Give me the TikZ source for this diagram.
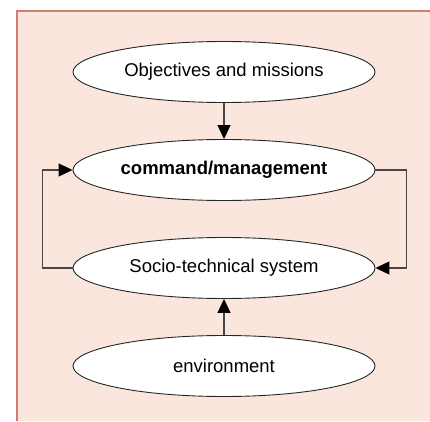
\documentclass[tikz,border=0pt]{standalone}
\usepackage{fontspec}
\setmainfont{Liberation Sans}
\usetikzlibrary{arrows.meta,shapes.geometric}
\definecolor{panelpink}{RGB}{250,230,221}
\definecolor{paneledge}{RGB}{205,128,108}
\definecolor{linkgray}{RGB}{75,68,68}
\begin{document}
\begin{tikzpicture}[x=1pt,y=1pt,
     blob/.style={draw=black!85,ellipse,fill=white,line width=0.9pt,minimum width=302pt,minimum height=61pt,inner sep=0pt,font=\fontsize{18.5}{22}\selectfont},
     link/.style={draw=linkgray,line width=1.1pt,-{Triangle[length=14pt,width=13pt,color=black]}},
     node distance=98pt
     ]
%Page and the pink panel
\useasboundingbox (0,0) rectangle (430,421);
\fill[white] (0,0) rectangle (430,421);
\fill[panelpink] (16,0) rectangle (430,410);
\draw[paneledge,line width=2pt] (17,0) -- (17,409.5) -- (430,409.5);

%The four ellipses
\node(obj)[blob] at (224,349){Objectives and missions};
\node(cmd)[blob,below of=obj]{\bfseries command/management};
\node(soc)[blob,below of=cmd]{Socio-technical system};
\node(env)[blob,below of=soc]{environment};

%Arrows
\draw[link](obj.south)--(cmd.north);
\draw[link](env.north)--(soc.south);
\draw[link](soc.west)--++(-30,0)|-(cmd.west);
\draw[link](cmd.east)--++(31,0)|-(soc.east);
\end{tikzpicture}
\end{document}
